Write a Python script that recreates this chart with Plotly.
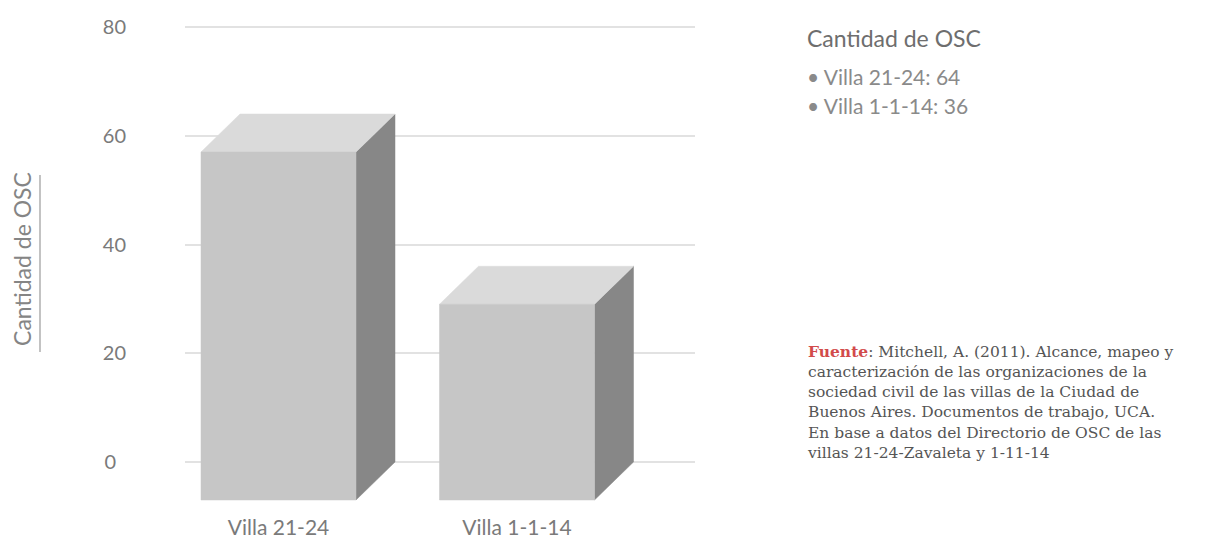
import plotly.graph_objects as go

# Data
categories = ["Villa 21-24", "Villa 1-1-14"]
osc_counts = [64, 36]
y_ticks = [0, 20, 40, 60, 80]

legend_title = "Cantidad de OSC"
source_lines = [
    "<b style='color:#d24b4b'>Fuente</b>: Mitchell, A. (2011). Alcance, mapeo y",
    "caracterización de las organizaciones de la",
    "sociedad civil de las villas de la Ciudad de",
    "Buenos Aires. Documentos de trabajo, UCA.",
    "En base a datos del Directorio de OSC de las",
    "villas 21-24-Zavaleta y 1-11-14",
]

# Page geometry (pixels)
W, H = 1221, 543
M_L, M_R, M_T, M_B = 185, 526, 5, 30
PLOT_W = W - M_L - M_R
PLOT_H = H - M_T - M_B

# y scale: 0 -> 462 px, 80 -> 27 px
PX_PER_UNIT = (462 - 27) / 80.0
Y_MIN = -(H - M_B - 462) / PX_PER_UNIT
Y_MAX = 80 + (27 - M_T) / PX_PER_UNIT

# x scale: category spacing in pixels
PX_PER_CAT = 238.5
X_MIN = -(317.5 - M_L) / PX_PER_CAT
X_MAX = X_MIN + PLOT_W / PX_PER_CAT

BAR_W = 155 / PX_PER_CAT        # bar width in category units
DEPTH_X = 39 / PX_PER_CAT       # depth offset, x
DEPTH_Y = 38 / PX_PER_UNIT      # depth offset, y

FRONT = "#c6c6c6"
TOP = "#dadada"
SIDE = "#878787"
TEXT = "#7a7a7a"
SANS = "Lato, 'Open Sans', sans-serif"
SERIF = "'DejaVu Serif', 'Liberation Serif', serif"


def px_x(px):
    return (px - M_L) / PLOT_W


def px_y(py):
    return (H - M_B - py) / PLOT_H


def poly(xs, ys, color):
    return go.Scatter(
        x=xs + [xs[0]], y=ys + [ys[0]], mode="lines", fill="toself",
        fillcolor=color, line=dict(color=color, width=0.5),
        hoverinfo="skip", showlegend=False,
    )


fig = go.Figure()

front_centers = []
for i, v in enumerate(osc_counts):
    xl, xr = i - BAR_W / 2, i + BAR_W / 2
    fxl, fxr = xl - DEPTH_X, xr - DEPTH_X
    fb, ft = -DEPTH_Y, v - DEPTH_Y
    front_centers.append(i - DEPTH_X)
    # side face
    fig.add_trace(poly([fxr, xr, xr, fxr], [fb, 0, v, ft], SIDE))
    # top face
    fig.add_trace(poly([fxl, fxr, xr, xl], [ft, ft, v, v], TOP))
    # front face
    fig.add_trace(poly([fxl, fxr, fxr, fxl], [fb, fb, ft, ft], FRONT))

# single digits get a half-digit pad so all labels share one centre
y_ticktext = [str(t) if t >= 10 else str(t) + "\u2002" for t in y_ticks]

fig.update_layout(
    width=W, height=H,
    margin=dict(l=M_L, r=M_R, t=M_T, b=M_B, autoexpand=False),
    paper_bgcolor="white", plot_bgcolor="white",
    showlegend=False,
    xaxis=dict(
        range=[X_MIN, X_MAX], showgrid=False, zeroline=False, showline=False,
        tickmode="array", tickvals=front_centers, ticktext=categories,
        tickfont=dict(family=SANS, size=21, color=TEXT),
        ticks="", ticklabelstandoff=0, fixedrange=True, automargin=False,
    ),
    yaxis=dict(
        range=[Y_MIN, Y_MAX], tickmode="array", tickvals=y_ticks,
        ticktext=y_ticktext,
        showgrid=True, gridcolor="#e2e2e2", gridwidth=2,
        zeroline=False, showline=False, ticks="",
        tickfont=dict(family=SANS, size=20, color=TEXT),
        ticklabelstandoff=58, automargin=False,
        title=dict(text="Cantidad de OSC", standoff=64,
                   font=dict(family=SANS, size=23, color="#858585")),
        fixedrange=True,
    ),
)

# underline beside the axis title
fig.add_shape(type="line", xref="paper", yref="paper",
              x0=px_x(40), x1=px_x(40), y0=px_y(175), y1=px_y(352),
              line=dict(color="#9a9a9a", width=1.2))

# summary block
fig.add_annotation(xref="paper", yref="paper", x=px_x(805), y=px_y(38),
                   xanchor="left", yanchor="middle", showarrow=False,
                   text=legend_title,
                   font=dict(family=SANS, size=23, color="#6e6e6e"))
for k, (c, v) in enumerate(zip(categories, osc_counts)):
    fig.add_annotation(xref="paper", yref="paper", x=px_x(805),
                       y=px_y(77 + 29 * k), xanchor="left", yanchor="middle",
                       showarrow=False, text=f"• {c}: {v}",
                       font=dict(family=SANS, size=21, color="#8a8a8a"))

# source note
fig.add_annotation(xref="paper", yref="paper", x=px_x(805), y=px_y(340),
                   xanchor="left", yanchor="top", align="left",
                   showarrow=False, text="<br>".join(source_lines),
                   font=dict(family=SERIF, size=15.5, color="#555555"))

fig.write_html("out.html")
